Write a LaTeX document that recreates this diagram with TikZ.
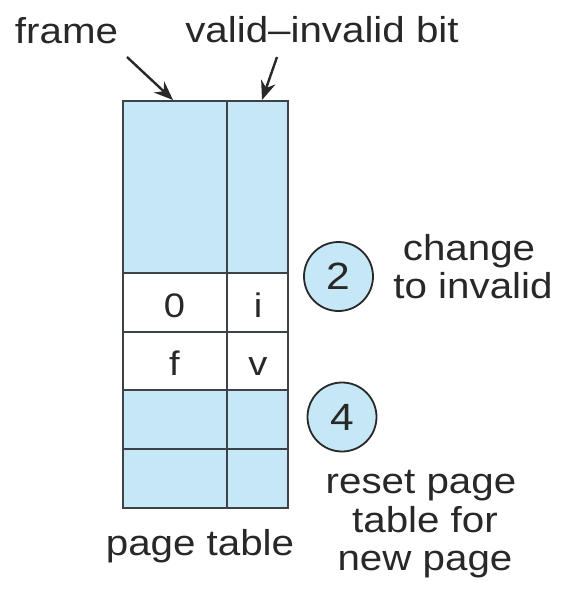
\documentclass[tikz,border=0pt]{standalone}
\usepackage{fontspec}
\setmainfont[FakeStretch=1.12]{Liberation Sans}
\usetikzlibrary{arrows.meta}
\definecolor{pblue}{RGB}{198,231,246}
\definecolor{ink}{RGB}{40,40,40}
\definecolor{edge}{RGB}{60,66,72}
\begin{document}
\begin{tikzpicture}[x=1pt,y=-1pt,
  lbl/.style={font=\fontsize{36pt}{38pt}\selectfont, text=ink, inner sep=0pt, anchor=base},
  celltxt/.style={font=\fontsize{34pt}{38pt}\selectfont, text=ink, inner sep=0pt, anchor=base},
  cell/.style={draw=edge, line width=2pt, inner sep=0pt, minimum width=#1},
  cellblue/.style={cell=#1, fill=pblue},
  numcirc/.style={circle, draw=ink, fill=pblue, line width=1.8pt, minimum size=69pt, inner sep=0pt,
                  font=\fontsize{38pt}{40pt}\selectfont, text=ink},
  arr/.style={draw=ink, line width=2.4pt, -{Stealth[length=19pt,width=15pt]}}]
\useasboundingbox (0,0) rectangle (561,592);
% page table cells
\node[cellblue=104pt, minimum height=172pt] (t1l) at (175,187) {};
\node[cellblue=61pt,  minimum height=172pt] (t1r) at (257.5,187) {};
\node[cell=104pt, minimum height=59pt] (t2l) at (175,302.5) {};
\node[cell=61pt,  minimum height=59pt] (t2r) at (257.5,302.5) {};
\node[cell=104pt, minimum height=58pt] (t3l) at (175,361) {};
\node[cell=61pt,  minimum height=58pt] (t3r) at (257.5,361) {};
\node[cellblue=104pt, minimum height=59pt] (t4l) at (175,419.5) {};
\node[cellblue=61pt,  minimum height=59pt] (t4r) at (257.5,419.5) {};
\node[cellblue=104pt, minimum height=59pt] (t5l) at (175,478.5) {};
\node[cellblue=61pt,  minimum height=59pt] (t5r) at (257.5,478.5) {};
% cell entries
\node[celltxt] (v0) at (174.5,317) {0};
\node[celltxt] (vi) at (258,317) {i};
\node[celltxt] (vf) at (174.5,375) {f};
\node[celltxt] (vv) at (258,375) {v};
% top labels and arrows
\node[lbl] (frame) at (66.5,43) {frame};
\node[lbl] (vib) at (322,42) {valid–invalid bit};
\coordinate (fs) at (127,57);
\coordinate (fe) at (173,100);
\coordinate (vs) at (277,57);
\coordinate (ve) at (262,100);
\draw[arr] (fs) -- (fe);
\draw[arr] (vs) -- (ve);
% step circles
\node[numcirc] (c2) at (338.5,276.5) {2};
\node[numcirc] (c4) at (342,417) {4};
\node[lbl] (ch1) at (469,260) {change};
\node[lbl] (ch2) at (473,298) {to invalid};
\node[lbl] (r1) at (421,493) {reset page};
\node[lbl] (r2) at (425,532) {table for};
\node[lbl] (r3) at (425,570) {new page};
\node[lbl] (pt) at (200,555) {page table};
\end{tikzpicture}
\end{document}
